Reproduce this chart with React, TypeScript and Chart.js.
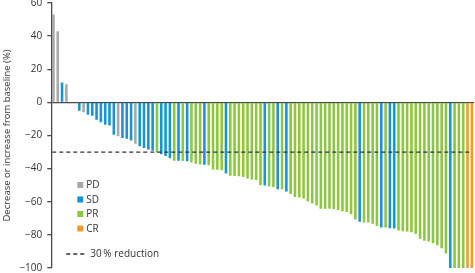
import React, { useEffect, useRef } from 'react';
import { Chart, registerables } from 'chart.js';

Chart.register(...registerables);

// Best change from baseline per patient (%), sorted waterfall order; null = no bar
const changeValues: (number | null)[] = [
  53, 43, 12, 11, null, null, -5, -6, -7.5, -8,
  -10.5, -12, -13.5, -14, -19.5, -20.5, -21.5, -22, -23, -25,
  -26.5, -27.5, -28.5, -29.2, -30.3, -31.3, -32.4, -33.8, -35.3, -35.3,
  -35.4, -35.5, -36.3, -37, -37.5, -37.7, -38, -40.5, -40.7, -41,
  -43, -44.3, -44.4, -44.6, -45, -46, -46.6, -46.8, -50, -50.2,
  -50.8, -51.3, -52.4, -52.5, -53.8, -55.3, -57.2, -57.5, -58, -59.8,
  -61, -62.3, -64.2, -64.3, -64.3, -64.5, -65, -65.7, -66.2, -67.5,
  -70.7, -72, -72.6, -72.6, -73.3, -74.6, -75.6, -75.6, -76, -76.2,
  -77.4, -77.8, -78, -78.4, -79.5, -82.3, -83.5, -84, -85.1, -86.3,
  -88.1, -91.2, -100, -100, -100, -100, -100, -100,
];

// Best overall response per patient
const responses: string[] = [
  'PD', 'PD', 'SD', 'PD', '', '', 'SD', 'PD', 'SD', 'SD',
  'SD', 'SD', 'SD', 'SD', 'SD', 'PD', 'SD', 'SD', 'SD', 'PD',
  'SD', 'SD', 'SD', 'SD', 'PR', 'SD', 'SD', 'SD', 'PR', 'SD',
  'PR', 'SD', 'PR', 'PR', 'PR', 'SD', 'PR', 'PR', 'PR', 'PR',
  'SD', 'PR', 'PR', 'PR', 'PR', 'PR', 'PR', 'PR', 'PR', 'SD',
  'PR', 'PR', 'SD', 'PR', 'SD', 'PR', 'PR', 'PR', 'PR', 'PR',
  'PR', 'PR', 'PR', 'PR', 'PR', 'PR', 'PR', 'PR', 'PR', 'PR',
  'PR', 'SD', 'PR', 'PR', 'PR', 'PR', 'SD', 'PR', 'SD', 'SD',
  'PR', 'PR', 'PR', 'PR', 'PR', 'PR', 'PR', 'PR', 'PR', 'PR',
  'PR', 'PR', 'SD', 'PR', 'PR', 'PR', 'CR', 'CR',
];

const legendLabels = ['PD', 'SD', 'PR', 'CR'];
const responseColors: Record<string, string> = {
  PD: '#a7a9ac',
  SD: '#1596d4',
  PR: '#8dc63f',
  CR: '#f59a2f',
  '': 'transparent',
};

const yTicks = [60, 40, 20, 0, -20, -40, -60, -80, -100];
const reductionThreshold = -30;
const reductionLabel = '30\u2009% reduction';
const yAxisTitle = 'Decrease or increase from baseline (%)';

const FONT = "'Open Sans', 'Noto Sans', sans-serif";
const TEXT_COLOR = '#333333';
const AXIS_COLOR = '#4a4a4a';
const SHIFT_TOP = 8;
const EXTRA_HEIGHT = 14;

const overlayPlugin = {
  id: 'waterfallOverlay',
  afterDatasetsDraw(chart: any) {
    const { ctx, chartArea, scales } = chart;
    const y = scales.y.getPixelForValue(reductionThreshold);
    ctx.save();
    ctx.strokeStyle = '#333333';
    ctx.lineWidth = 1.3;
    ctx.setLineDash([4, 3]);
    ctx.beginPath();
    ctx.moveTo(chartArea.left + 1, y);
    ctx.lineTo(chartArea.right - 2, y);
    ctx.stroke();
    ctx.restore();
  },
  afterDraw(chart: any) {
    const { ctx, chartArea } = chart;
    ctx.save();
    const sx = chartArea.left + 26;
    const baseY = chartArea.top + 179;
    const step = 14.5;
    ctx.font = `10px ${FONT}`;
    ctx.textBaseline = 'middle';
    ctx.textAlign = 'left';
    legendLabels.forEach((lab, i) => {
      const yy = baseY + i * step;
      ctx.fillStyle = responseColors[lab];
      ctx.fillRect(sx, yy, 6, 6);
      ctx.fillStyle = TEXT_COLOR;
      ctx.fillText(lab, sx + 9, yy + 3.5);
    });
    const dy = chartArea.top + 251;
    ctx.strokeStyle = '#333333';
    ctx.lineWidth = 1.3;
    ctx.setLineDash([4, 3]);
    ctx.beginPath();
    ctx.moveTo(sx - 11, dy);
    ctx.lineTo(sx + 9, dy);
    ctx.stroke();
    ctx.setLineDash([]);
    ctx.fillStyle = TEXT_COLOR;
    ctx.fillText(reductionLabel, sx + 13, dy + 0.5);
    ctx.restore();
  },
};

export default function App() {
  const canvasRef = useRef<HTMLCanvasElement | null>(null);

  useEffect(() => {
    document.body.style.margin = '0';
    const canvas = canvasRef.current;
    if (!canvas) return;
    const categories = changeValues.map((_, i) => `Patient ${i + 1}`);
    const chart = new Chart(canvas, {
      type: 'bar',
      data: {
        labels: categories,
        datasets: [
          {
            data: changeValues as any,
            backgroundColor: responses.map((r) => responseColors[r]),
            borderWidth: 0,
            barPercentage: 0.6,
            categoryPercentage: 1,
          },
        ],
      },
      options: {
        animation: false,
        responsive: true,
        maintainAspectRatio: false,
        layout: { padding: { top: 0, right: 1, bottom: 0, left: 1 } },
        plugins: {
          legend: { display: false },
          tooltip: { enabled: false },
        },
        scales: {
          x: {
            display: false,
            offset: true,
          },
          y: {
            min: -100,
            max: 60,
            afterBuildTicks(scale: any) {
              scale.ticks = yTicks.map((v) => ({ value: v }));
            },
            ticks: {
              color: TEXT_COLOR,
              font: { family: FONT, size: 10 },
              padding: 5,
              callback: (v: any) => String(v).replace('-', '\u2212'),
            },
            grid: {
              drawOnChartArea: true,
              drawTicks: true,
              tickLength: 4,
              tickColor: AXIS_COLOR,
              lineWidth: 1.3,
              color: (c: any) => (c.tick && c.tick.value === 0 ? AXIS_COLOR : 'transparent'),
            },
            border: { display: true, color: AXIS_COLOR, width: 1.3 },
            title: {
              display: true,
              text: yAxisTitle,
              color: TEXT_COLOR,
              font: { family: FONT, size: 9.5 },
              padding: { top: 1, bottom: 1 },
            },
          },
        },
      },
      plugins: [overlayPlugin],
    });
    return () => chart.destroy();
  }, []);

  return (
    <div style={{ position: 'relative', width: 475, height: 273, overflow: 'hidden' }}>
      <div style={{ position: 'absolute', left: 0, top: -SHIFT_TOP, width: 475, height: 273 + EXTRA_HEIGHT }}>
        <canvas ref={canvasRef} />
      </div>
    </div>
  );
}
